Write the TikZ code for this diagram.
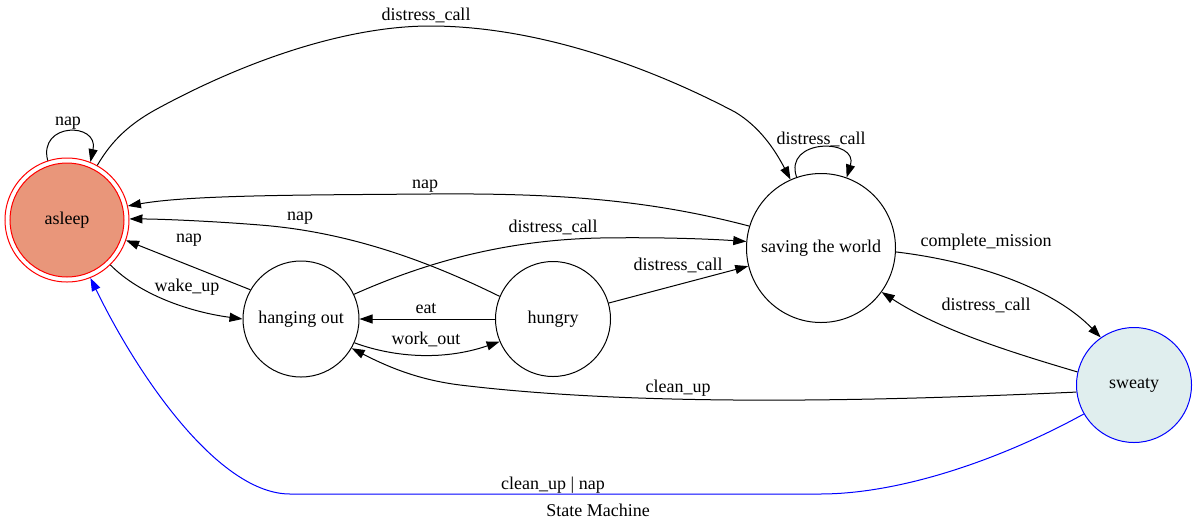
\documentclass[tikz,border=0pt]{standalone}
\usepackage{fontspec}
\setmainfont{Liberation Serif}
\usetikzlibrary{arrows.meta}
\definecolor{asleepfill}{RGB}{233,150,122}
\definecolor{sweatyfill}{RGB}{224,238,238}
\begin{document}
\begin{tikzpicture}[x=1pt,y=-1pt,
  every node/.style={font=\fontsize{18}{20}\selectfont},
  state/.style={circle,draw=black,line width=1pt,inner sep=0pt},
  lbl/.style={inner sep=0pt},
  edge/.style={draw=black,line width=1pt,-{Triangle[length=13pt,width=9pt]}},
  bedge/.style={draw=blue,line width=1pt,-{Triangle[length=13pt,width=9pt]}}]
\useasboundingbox (0,0) rectangle (1197,531);
% states
\node[state,draw=red,minimum size=124pt] (asleep) at (67,220) {};
\node[state,draw=red,fill=asleepfill,minimum size=114pt] (asleepin) at (67,220) {asleep};
\node[state,minimum size=116pt] (hanging) at (301,319) {hanging out};
\node[state,minimum size=115pt] (hungry) at (553,319) {hungry};
\node[state,minimum size=149pt] (saving) at (821,248) {saving the world};
\node[state,draw=blue,fill=sweatyfill,minimum size=115pt] (sweaty) at (1134,385) {sweaty};
% edges
\draw[edge] (asleep.108) .. controls (38,122) and (99,122) .. (asleep.68);
\draw[edge] (asleep.61) .. controls (112,140) and (130,124) .. (155,110)
  .. controls (250,58) and (350,26) .. (430,26)
  .. controls (530,26) and (640,62) .. (735,112)
  .. controls (760,127) and (775,150) .. (saving.114.5);
\draw[edge] (saving.163) .. controls (650,200) and (560,193) .. (430,194)
  .. controls (300,195) and (190,195) .. (asleep.13);
\draw[edge] (hungry.157.5) .. controls (430,262) and (350,232) .. (260,225)
  .. controls (210,221) and (160,219) .. (asleep.1);
\draw[edge] (hanging.150) -- (asleep.-19);
\draw[edge] (asleep.-46) .. controls (140,295) and (190,312) .. (hanging.180);
\draw[edge] (hanging.25.7) .. controls (420,265) and (500,240) .. (600,238)
  .. controls (660,237) and (710,239) .. (saving.175);
\draw[edge] (hungry.16.6) -- (saving.194.6);
\draw[edge] (hungry.180) -- (hanging.0);
\draw[edge] (hanging.-24) .. controls (390,356) and (440,362) .. (hungry.203.5);
\draw[edge] (saving.109.4) .. controls (783,138) and (859,138) .. (saving.70);
\draw[edge] (saving.-3) .. controls (980,262) and (1055,290) .. (sweaty.125.9);
\draw[edge] (sweaty.167) .. controls (1010,352) and (940,330) .. (saving.-36.4);
\draw[edge] (sweaty.187) .. controls (900,400) and (650,408) .. (460,385)
  .. controls (420,380) and (390,368) .. (hanging.-30.8);
\coordinate (b1) at (820,494);
\coordinate (b2) at (290,494);
\draw[bedge] (sweaty.210) .. controls (1000,460) and (900,494) .. (b1) -- (b2)
  .. controls (220,494) and (140,380) .. (asleep.-68);
% labels
\node[lbl] (l1) at (68,123) {nap};
\node[lbl] (l2) at (426,15) {distress\_call};
\node[lbl] (l3) at (821,139) {distress\_call};
\node[lbl] (l4) at (425,186) {nap};
\node[lbl] (l5) at (300,218) {nap};
\node[lbl] (l6) at (553,227) {distress\_call};
\node[lbl] (l7) at (189,240) {nap};
\node[lbl] (l8) at (986,242) {complete\_mission};
\node[lbl] (l9) at (678,265) {distress\_call};
\node[lbl] (l10) at (187,287) {wake\_up};
\node[lbl] (l11) at (986,305) {distress\_call};
\node[lbl] (l12) at (426,309) {eat};
\node[lbl] (l13) at (426,339) {work\_out};
\node[lbl] (l14) at (678,388) {clean\_up};
\node[lbl] (l15) at (553,485) {clean\_up \textbar{} nap};
\node[lbl] (title) at (598,510) {State Machine};
\end{tikzpicture}
\end{document}
